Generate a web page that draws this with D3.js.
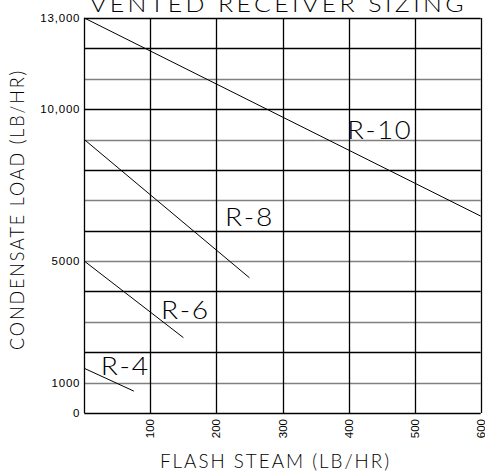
<!DOCTYPE html>
<html>
<head>
<meta charset="utf-8">
<script src="https://cdn.jsdelivr.net/npm/d3@7"></script>
<style>
  body { margin: 0; background: #fff; }
  text { fill: #000; }
  .tick { font-family: "Liberation Sans", Arial, sans-serif; }
  .cad { font-family: "Lato", "DejaVu Sans", sans-serif; font-weight: 300; }
</style>
</head>
<body>
<script>
// data
const seriesNames = ["R-10", "R-8", "R-6", "R-4"];
const flashSteam = [
  [0, 600],
  [0, 250],
  [0, 150],
  [0, 75]
];
const condensateLoad = [
  [13000, 6480],
  [9000, 4450],
  [5000, 2480],
  [1470, 720]
];
// where each label sits (data coords of its left/baseline)
const labelAt = [[398, 9020], [213, 6150], [116, 3080], [25, 1240]];
const yTicks = [0, 1000, 5000, 10000, 13000];
const yTickLabels = ["0", "1000", "5000", "10,000", "13,000"];
const xTicks = [100, 200, 300, 400, 500, 600];

const width = 485, height = 471;
const margin = { top: 18, right: 4.3, bottom: 58, left: 84.3 };

const svg = d3.select("body").append("svg")
    .attr("width", width)
    .attr("height", height);

const x = d3.scaleLinear().domain([0, 600]).range([margin.left, width - margin.right]);
const y = d3.scaleLinear().domain([0, 13000]).range([height - margin.bottom, margin.top]);

// horizontal grid: every 1000, even thousands black, odd thousands gray
const hLines = d3.range(1000, 13001, 1000);
svg.append("g")
  .selectAll("line")
  .data(hLines)
  .join("line")
    .attr("x1", x(0))
    .attr("x2", x(600))
    .attr("y1", d => Math.round(y(d)) + 0.5)
    .attr("y2", d => Math.round(y(d)) + 0.5)
    .attr("stroke", d => (d / 1000) % 2 === 0 || d === 13000 ? "#000" : "#808080")
    .attr("stroke-width", 1.3);

// vertical grid
svg.append("g")
  .selectAll("line")
  .data(xTicks)
  .join("line")
    .attr("x1", d => Math.round(x(d)) + 0.5)
    .attr("x2", d => Math.round(x(d)) + 0.5)
    .attr("y1", y(13000))
    .attr("y2", y(0))
    .attr("stroke", "#000")
    .attr("stroke-width", 1.3);

// axes (left + bottom)
svg.append("line")
    .attr("x1", Math.round(x(0)) + 0.5).attr("x2", Math.round(x(0)) + 0.5)
    .attr("y1", y(13000)).attr("y2", y(0))
    .attr("stroke", "#000").attr("stroke-width", 1.3);
svg.append("line")
    .attr("x1", x(0)).attr("x2", x(600))
    .attr("y1", Math.round(y(0)) + 0.5).attr("y2", Math.round(y(0)) + 0.5)
    .attr("stroke", "#000").attr("stroke-width", 1.5);

// y tick labels
svg.append("g")
  .selectAll("text")
  .data(yTicks)
  .join("text")
    .attr("class", "tick")
    .attr("x", x(0) - 4)
    .attr("y", d => y(d))
    .attr("dy", "0.35em")
    .attr("text-anchor", "end")
    .attr("font-size", 11.5)
    .attr("letter-spacing", 0.8)
    .text((d, i) => yTickLabels[i]);

// x tick labels (rotated)
svg.append("g")
  .selectAll("text")
  .data(xTicks)
  .join("text")
    .attr("class", "tick")
    .attr("transform", d => `translate(${x(d) + 4},${y(0) + 6}) rotate(-90)`)
    .attr("text-anchor", "end")
    .attr("font-size", 11.5)
    .text(d => d);

// series lines
const line = d3.line().x(d => x(d[0])).y(d => y(d[1]));
svg.append("g")
  .selectAll("path")
  .data(seriesNames.map((n, i) => flashSteam[i].map((v, j) => [v, condensateLoad[i][j]])))
  .join("path")
    .attr("d", line)
    .attr("fill", "none")
    .attr("stroke", "#000")
    .attr("stroke-width", 1);

// series labels
svg.append("g")
  .selectAll("text")
  .data(seriesNames)
  .join("text")
    .attr("class", "cad")
    .attr("x", (d, i) => x(labelAt[i][0]))
    .attr("y", (d, i) => y(labelAt[i][1]))
    .attr("font-size", 25)
    .attr("letter-spacing", 1.5)
    .attr("textLength", d => d.length === 4 ? 65 : 49)
    .attr("lengthAdjust", "spacingAndGlyphs")
    .text(d => d);

// titles
svg.append("text")
    .attr("class", "cad")
    .attr("x", 90)
    .attr("y", 12)
    .attr("font-size", 22)
    .attr("letter-spacing", 3)
    .attr("textLength", 377)
    .attr("lengthAdjust", "spacingAndGlyphs")
    .text("VENTED RECEIVER SIZING");

svg.append("text")
    .attr("class", "cad")
    .attr("x", 160)
    .attr("y", 468)
    .attr("font-size", 19)
    .attr("letter-spacing", 2)
    .attr("textLength", 231)
    .attr("lengthAdjust", "spacingAndGlyphs")
    .text("FLASH STEAM (LB/HR)");

svg.append("text")
    .attr("class", "cad")
    .attr("transform", "translate(24,350) rotate(-90)")
    .attr("font-size", 19)
    .attr("letter-spacing", 2)
    .attr("textLength", 281)
    .attr("lengthAdjust", "spacingAndGlyphs")
    .text("CONDENSATE LOAD (LB/HR)");
</script>
</body>
</html>
